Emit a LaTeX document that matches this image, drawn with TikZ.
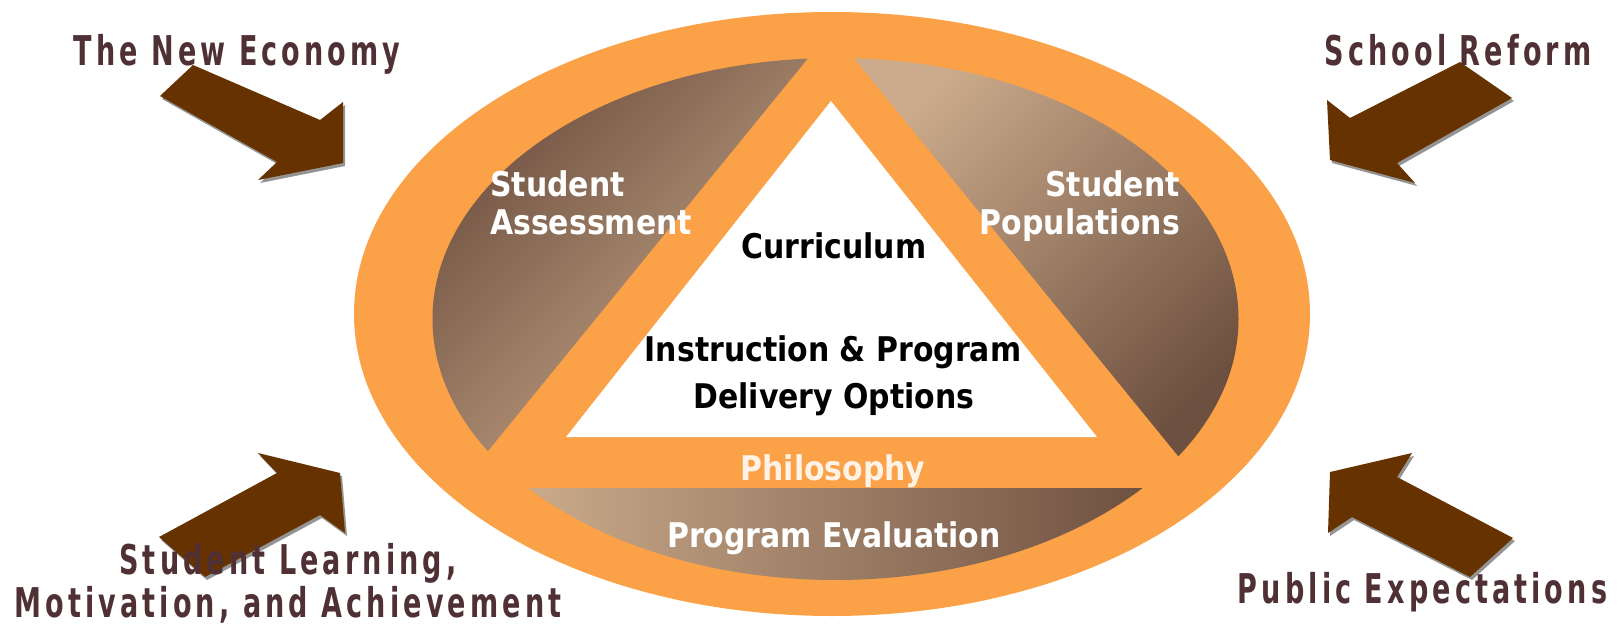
\documentclass[tikz,border=0pt]{standalone}
\usepackage{fontspec}
\newfontfamily\outerfont{DejaVu Sans}[FakeStretch=0.66,LetterSpace=10]
\newfontfamily\innerfont{DejaVu Sans}[FakeStretch=0.88]
\definecolor{ringorange}{HTML}{FBA147}
\definecolor{gdark}{HTML}{6E5040}
\definecolor{glight}{HTML}{CBAB8B}
\definecolor{arrowbrown}{HTML}{663300}
\definecolor{labelbrown}{HTML}{4F3035}
\definecolor{philo}{HTML}{FFF2E6}
\tikzset{
  outerlabel/.style={text=labelbrown,font=\outerfont\bfseries\fontsize{41}{48}\selectfont,inner sep=0pt},
  innerlabel/.style={text=black,font=\innerfont\bfseries\fontsize{34}{40}\selectfont,inner sep=0pt},
  whitelabel/.style={text=white,font=\innerfont\bfseries\fontsize{34}{40}\selectfont,inner sep=0pt},
  blockarrow/.style={fill=arrowbrown},
  arrowshadow/.style={fill=black!60,opacity=0.7}
}
\begin{document}
\begin{tikzpicture}[x=1pt,y=-1pt]
\useasboundingbox (0,0) rectangle (1618,626);
% ring
\fill[ringorange] (832,314) ellipse [x radius=478, y radius=302];
\begin{scope}
  \clip (835.5,319) ellipse [x radius=403, y radius=261];
  \shade[top color=gdark, bottom color=glight, shading angle=45]
    (814.7,50) -- (472.5,470) -- (430,470) -- (430,50) -- cycle;
  \shade[top color=glight, bottom color=gdark, shading angle=45]
    (847.3,50) -- (1189.5,470) -- (1245,470) -- (1245,50) -- cycle;
  \shade[left color=glight, right color=gdark]
    (520,488) -- (1150,488) -- (1150,585) -- (520,585) -- cycle;
\end{scope}
% inner white triangle
\fill[white] (831,101) -- (566,437) -- (1097,437) -- cycle;

% block arrows (shadow then arrow)
\begin{scope}[shift={(2,3)}]
  \fill[arrowshadow] (160,96) -- (193,65) -- (320,120) -- (343,102) -- (343,163) -- (258,180) -- (277,162) -- cycle;
  \fill[arrowshadow] (1460,62) -- (1512,98) -- (1397,163) -- (1415,183) -- (1330,160) -- (1327,100) -- (1350,118) -- cycle;
  \fill[arrowshadow] (258,453) -- (340,473) -- (345,533) -- (320,515) -- (205,577) -- (159,537) -- (277,473) -- cycle;
  \fill[arrowshadow] (1412,453) -- (1330,472) -- (1328,533) -- (1352,517) -- (1470,577) -- (1513,538) -- (1397,477) -- cycle;
\end{scope}
\fill[blockarrow] (160,96) -- (193,65) -- (320,120) -- (343,102) -- (343,163) -- (258,180) -- (277,162) -- cycle;
\fill[blockarrow] (1460,62) -- (1512,98) -- (1397,163) -- (1415,183) -- (1330,160) -- (1327,100) -- (1350,118) -- cycle;
\fill[blockarrow] (258,453) -- (340,473) -- (345,533) -- (320,515) -- (205,577) -- (159,537) -- (277,473) -- cycle;
\fill[blockarrow] (1412,453) -- (1330,472) -- (1328,533) -- (1352,517) -- (1470,577) -- (1513,538) -- (1397,477) -- cycle;

% outer labels
\node[outerlabel,anchor=base] (econ) at (237,66) {The New Economy};
\node[outerlabel,anchor=base] (reform) at (1458,66) {School Reform};
\node[outerlabel,anchor=base] (learnA) at (288,574) {Student Learning,};
\node[outerlabel,anchor=base] (learnB) at (288,617) {Motivation, and Achievement};
\node[outerlabel,anchor=base] (public) at (1422.5,603) {Public Expectations};

% inner labels
\node[innerlabel,anchor=base] (curr) at (834,258) {Curriculum};
\node[innerlabel,anchor=base] (instrA) at (833,361) {Instruction \& Program};
\node[innerlabel,anchor=base] (instrB) at (834,408) {Delivery Options};
\node[whitelabel,anchor=base west] (assessA) at (490,196) {Student};
\node[whitelabel,anchor=base west] (assessB) at (490,234) {Assessment};
\node[whitelabel,anchor=base east] (popA) at (1180,196) {Student};
\node[whitelabel,anchor=base east] (popB) at (1180,234) {Populations};
\node[whitelabel,text=philo,anchor=base] (philo) at (833,480) {Philosophy};
\node[whitelabel,anchor=base] (evalu) at (834,547) {Program Evaluation};
\end{tikzpicture}
\end{document}
